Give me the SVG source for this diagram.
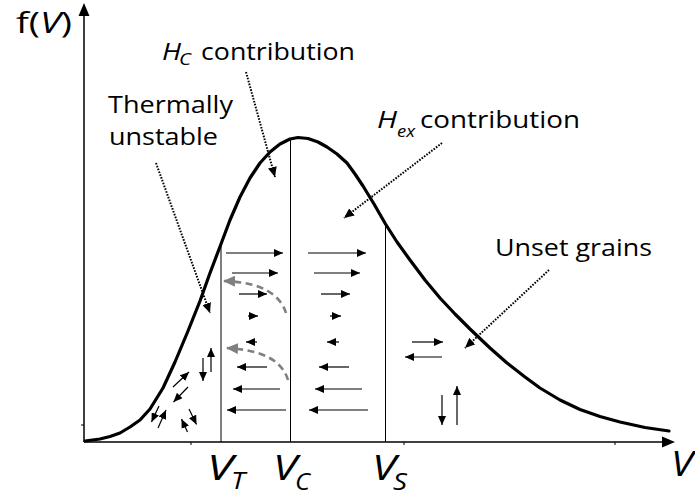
<svg xmlns="http://www.w3.org/2000/svg" width="695" height="497" viewBox="0 0 695 497">
<defs>
<style>
text{font-family:"Open Sans","Noto Sans","Liberation Sans",sans-serif;fill:#000}
.lbl{font-size:23px}
.sub{font-size:16px;font-style:italic}
.it{font-style:italic}
.vl{font-size:35px;font-style:italic}
.vs{font-size:24px;font-style:italic}
.ax{stroke:#000;stroke-width:1.5;fill:none}
.vline{stroke:#000;stroke-width:1;fill:none}
.curve{stroke:#000;stroke-width:3.2;fill:none;stroke-linejoin:round;stroke-linecap:round}
.spin{stroke:#000;stroke-width:1.2;fill:none;marker-end:url(#ah)}
.gray{stroke:#808080;stroke-width:2.6;fill:none;stroke-dasharray:7 4.5;marker-end:url(#gh)}
.dot{stroke:#000;stroke-width:2;fill:none;stroke-dasharray:1.6 1.4;marker-end:url(#dh)}
</style>
<marker id="ah" markerUnits="userSpaceOnUse" markerWidth="9" markerHeight="8" refX="9" refY="4" orient="auto">
<path d="M0,0 L9,4 L0,8 z" fill="#000"/>
</marker>
<marker id="dh" markerUnits="userSpaceOnUse" markerWidth="10" markerHeight="9" refX="10" refY="4.5" orient="auto">
<path d="M0,0 L10,4.5 L0,9 z" fill="#000"/>
</marker>
<marker id="gh" markerUnits="userSpaceOnUse" markerWidth="12" markerHeight="11" refX="11" refY="5.5" orient="auto">
<path d="M0,0 L12,5.5 L0,11 z" fill="#808080"/>
</marker>
</defs>
<rect width="695" height="497" fill="#fff"/>

<g id="axes">
<line class="ax" x1="84" y1="442" x2="84" y2="14"/>
<polygon points="84,3 78.5,16 89.5,16" fill="#000"/>
<line class="ax" x1="84" y1="442" x2="664" y2="442"/>
<polygon points="675,442 662,436.5 662,447.5" fill="#000"/>
<path d="M191,442 v3 M404,442 v3 M615,442 v3 M84,425 h-3" stroke="#000" stroke-width="1"/>
</g>

<g id="vlines">
<line class="vline" x1="221" y1="244" x2="221" y2="442"/>
<line class="vline" x1="290.5" y1="139" x2="290.5" y2="442"/>
<line class="vline" x1="385.5" y1="225" x2="385.5" y2="442"/>
</g>

<g id="curve">
<path class="curve" d="M85,441 L100,439 L110,436.5 L120,433 L130,427 L140,420 L150,409 L163,388 L175,362 L188,331 L200,301 L210,273 L221,244 L230,220 L240,197 L250,178 L260,163 L270,152 L280,144 L290,139 L298,137.5 L308,138.5 L318,142 L327,147 L337,154 L347,163 L355,174 L363,186 L374,204 L385.5,224 L397,242 L410,260 L425,280 L440,298 L455,314 L470,329 L490,348 L507,363 L525,377 L540,388 L560,400 L580,409.5 L600,416.5 L620,422 L645,427.5 L669,431"/>
</g>

<g id="spins-thermal">
<line class="spin" x1="203" y1="358" x2="203" y2="381"/>
<line class="spin" x1="211" y1="372" x2="211" y2="348"/>
<line class="spin" x1="173" y1="387" x2="189" y2="372"/>
<line class="spin" x1="188" y1="387" x2="173.5" y2="402"/>
<line class="spin" x1="159" y1="406" x2="151.5" y2="422"/>
<line class="spin" x1="158" y1="428" x2="166" y2="410"/>
<line class="spin" x1="189" y1="409" x2="196.5" y2="424.5"/>
<line class="spin" x1="187.5" y1="432" x2="181.5" y2="419"/>
</g>

<g id="spins-hc">
<line class="spin" x1="226" y1="253" x2="283" y2="253"/>
<line class="spin" x1="232" y1="273" x2="278" y2="273"/>
<line class="spin" x1="239" y1="294" x2="267" y2="294"/>
<line class="spin" x1="248" y1="316" x2="258" y2="316"/>
<line class="spin" x1="257" y1="342" x2="246" y2="342"/>
<line class="spin" x1="267" y1="367" x2="237" y2="367"/>
<line class="spin" x1="280" y1="389" x2="233" y2="389"/>
<line class="spin" x1="286" y1="410" x2="227" y2="410"/>
</g>

<g id="spins-hex">
<line class="spin" x1="308" y1="253" x2="366" y2="253"/>
<line class="spin" x1="314" y1="273" x2="360" y2="273"/>
<line class="spin" x1="321" y1="294" x2="350" y2="294"/>
<line class="spin" x1="330" y1="316" x2="341" y2="316"/>
<line class="spin" x1="339" y1="342" x2="327" y2="342"/>
<line class="spin" x1="349" y1="367" x2="319" y2="367"/>
<line class="spin" x1="362" y1="389" x2="315" y2="389"/>
<line class="spin" x1="368" y1="410" x2="309" y2="410"/>
</g>

<g id="spins-unset">
<line class="spin" x1="412" y1="342" x2="443" y2="342"/>
<line class="spin" x1="442" y1="357" x2="405" y2="357"/>
<line class="spin" x1="442" y1="395" x2="442" y2="425"/>
<line class="spin" x1="457" y1="425" x2="457" y2="386"/>
</g>

<g id="connectors">
<path class="gray" d="M286,313 C281,296 263,282 224,281"/>
<path class="gray" d="M288,380 C283,363 266,350 227,348"/>
<line class="dot" x1="156" y1="163" x2="210" y2="313"/>
<line class="dot" x1="246" y1="72" x2="275" y2="177"/>
<line class="dot" x1="442" y1="143" x2="344" y2="218"/>
<line class="dot" x1="549" y1="270" x2="465" y2="348"/>
</g>

<g id="label-fv">
<text x="16" y="33" font-size="30" textLength="56" lengthAdjust="spacingAndGlyphs">f(<tspan class="it">V</tspan>)</text>
</g>
<g id="label-hc">
<text class="lbl it" x="162" y="60" textLength="19" lengthAdjust="spacingAndGlyphs">H</text>
<text class="sub" x="179" y="65" textLength="12" lengthAdjust="spacingAndGlyphs">C</text>
<text class="lbl" x="201" y="60" textLength="154" lengthAdjust="spacingAndGlyphs">contribution</text>
</g>
<g id="label-thermal">
<text class="lbl" x="108" y="113" textLength="125" lengthAdjust="spacingAndGlyphs">Thermally</text>
<text class="lbl" x="109" y="145" textLength="109" lengthAdjust="spacingAndGlyphs">unstable</text>
</g>
<g id="label-hex">
<text class="lbl it" x="377" y="128" textLength="20" lengthAdjust="spacingAndGlyphs">H</text>
<text class="sub" x="397" y="137" textLength="18" lengthAdjust="spacingAndGlyphs">ex</text>
<text class="lbl" x="420" y="128" textLength="160" lengthAdjust="spacingAndGlyphs">contribution</text>
</g>
<g id="label-unset">
<text class="lbl" x="495" y="256" textLength="157" lengthAdjust="spacingAndGlyphs">Unset grains</text>
</g>
<g id="label-vt">
<text class="vl" x="207" y="480" textLength="26" lengthAdjust="spacingAndGlyphs">V</text>
<text class="vs" x="231" y="489" textLength="14" lengthAdjust="spacingAndGlyphs">T</text>
</g>
<g id="label-vc">
<text class="vl" x="273" y="480" textLength="24" lengthAdjust="spacingAndGlyphs">V</text>
<text class="vs" x="295" y="490" textLength="15" lengthAdjust="spacingAndGlyphs">C</text>
</g>
<g id="label-vs">
<text class="vl" x="372" y="480" textLength="24" lengthAdjust="spacingAndGlyphs">V</text>
<text class="vs" x="393" y="490" textLength="14" lengthAdjust="spacingAndGlyphs">S</text>
</g>
<g id="label-v">
<text class="vl" x="671" y="476" textLength="22" lengthAdjust="spacingAndGlyphs">V</text>
</g>
</svg>
